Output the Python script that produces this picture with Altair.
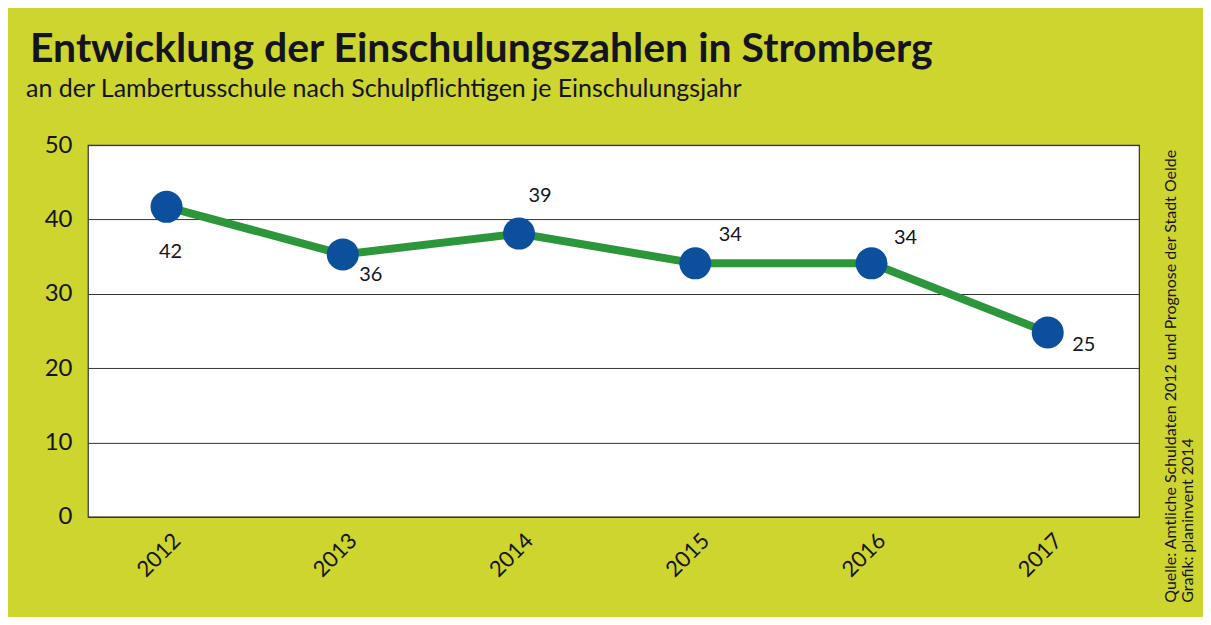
import altair as alt
import pandas as pd

# ---- data ----
years = [2012, 2013, 2014, 2015, 2016, 2017]
values = [41.7, 35.3, 38.1, 34.1, 34.1, 24.8]
labels = ["42", "36", "39", "34", "34", "25"]

title_text = "Entwicklung der Einschulungszahlen in Stromberg"
subtitle_text = "an der Lambertusschule nach Schulpflichtigen je Einschulungsjahr"
source_lines = ["Quelle: Amtliche Schuldaten 2012 und Prognose der Stadt Oelde",
                "Grafik: planinvent 2014"]

df = pd.DataFrame({"year": years, "value": values, "label": labels})

FONT = "Lato"
BG = "#cdd52e"
TXT = "#14141e"

# label placement (pixel offsets from point centre)
label_offsets = {2012: (4, 45), 2013: (28, 21), 2014: (21, -38),
                 2015: (35, -28), 2016: (34, -25), 2017: (36, 13)}

x_enc = alt.X("year:Q",
              scale=alt.Scale(domain=[2011.554, 2017.518], nice=False, zero=False),
              axis=alt.Axis(values=years, format="d", title=None, grid=False,
                            ticks=False, domain=False, labelAngle=-45,
                            labelAlign="right", labelBaseline="top",
                            labelOffset=3, labelPadding=13,
                            labelFont=FONT, labelFontSize=22, labelColor=TXT))
y_enc = alt.Y("value:Q",
              scale=alt.Scale(domain=[0, 50], nice=False),
              axis=alt.Axis(values=[0, 10, 20, 30, 40, 50], title=None,
                            ticks=False, domain=False, grid=True,
                            gridColor="#333333", gridWidth=1, gridOpacity=1,
                            labelPadding=16, labelFont=FONT, labelFontSize=24,
                            labelColor=TXT))

base = alt.Chart(df)

line = base.mark_line(color="#2b963a", strokeWidth=8).encode(x=x_enc, y=y_enc)
pts = base.mark_point(filled=True, shape="circle", size=1024, color="#0c4f9d",
                      opacity=1).encode(x="year:Q", y="value:Q")

label_layers = []
for yr, (dx, dy) in label_offsets.items():
    label_layers.append(
        base.transform_filter(alt.datum.year == yr)
        .mark_text(font=FONT, fontSize=20, color=TXT, dx=dx, dy=dy,
                   align="center", baseline="middle")
        .encode(x="year:Q", y="value:Q", text="label:N"))

ann = pd.DataFrame({"t": [0]})
title = alt.Chart(ann).mark_text(text=title_text, font=FONT, fontWeight="bold",
                                 fontSize=41, color=TXT, align="left",
                                 baseline="alphabetic").encode(
    x=alt.value(-58), y=alt.value(-83))
subtitle = alt.Chart(ann).mark_text(text=subtitle_text, font=FONT, fontSize=25,
                                    color=TXT, align="left",
                                    baseline="alphabetic").encode(
    x=alt.value(-62), y=alt.value(-48))
src1 = alt.Chart(ann).mark_text(text=source_lines[0], font=FONT, fontSize=16,
                                color=TXT, align="left", baseline="alphabetic",
                                angle=270).encode(
    x=alt.value(1089), y=alt.value(458))
src2 = alt.Chart(ann).mark_text(text=source_lines[1], font=FONT, fontSize=16,
                                color=TXT, align="left", baseline="alphabetic",
                                angle=270).encode(
    x=alt.value(1106), y=alt.value(458))

chart = alt.layer(line, pts, *label_layers, title, subtitle, src1, src2).properties(
    width=1052, height=372,
    autosize=alt.AutoSizeParams(type="none"),
    padding={"left": 80, "top": 137, "right": 64, "bottom": 100},
).configure(background=BG).configure_view(fill="white", stroke="#333333",
                                          strokeWidth=1.2)

chart.save("out.html", embed_options={"renderer": "svg", "actions": False})
